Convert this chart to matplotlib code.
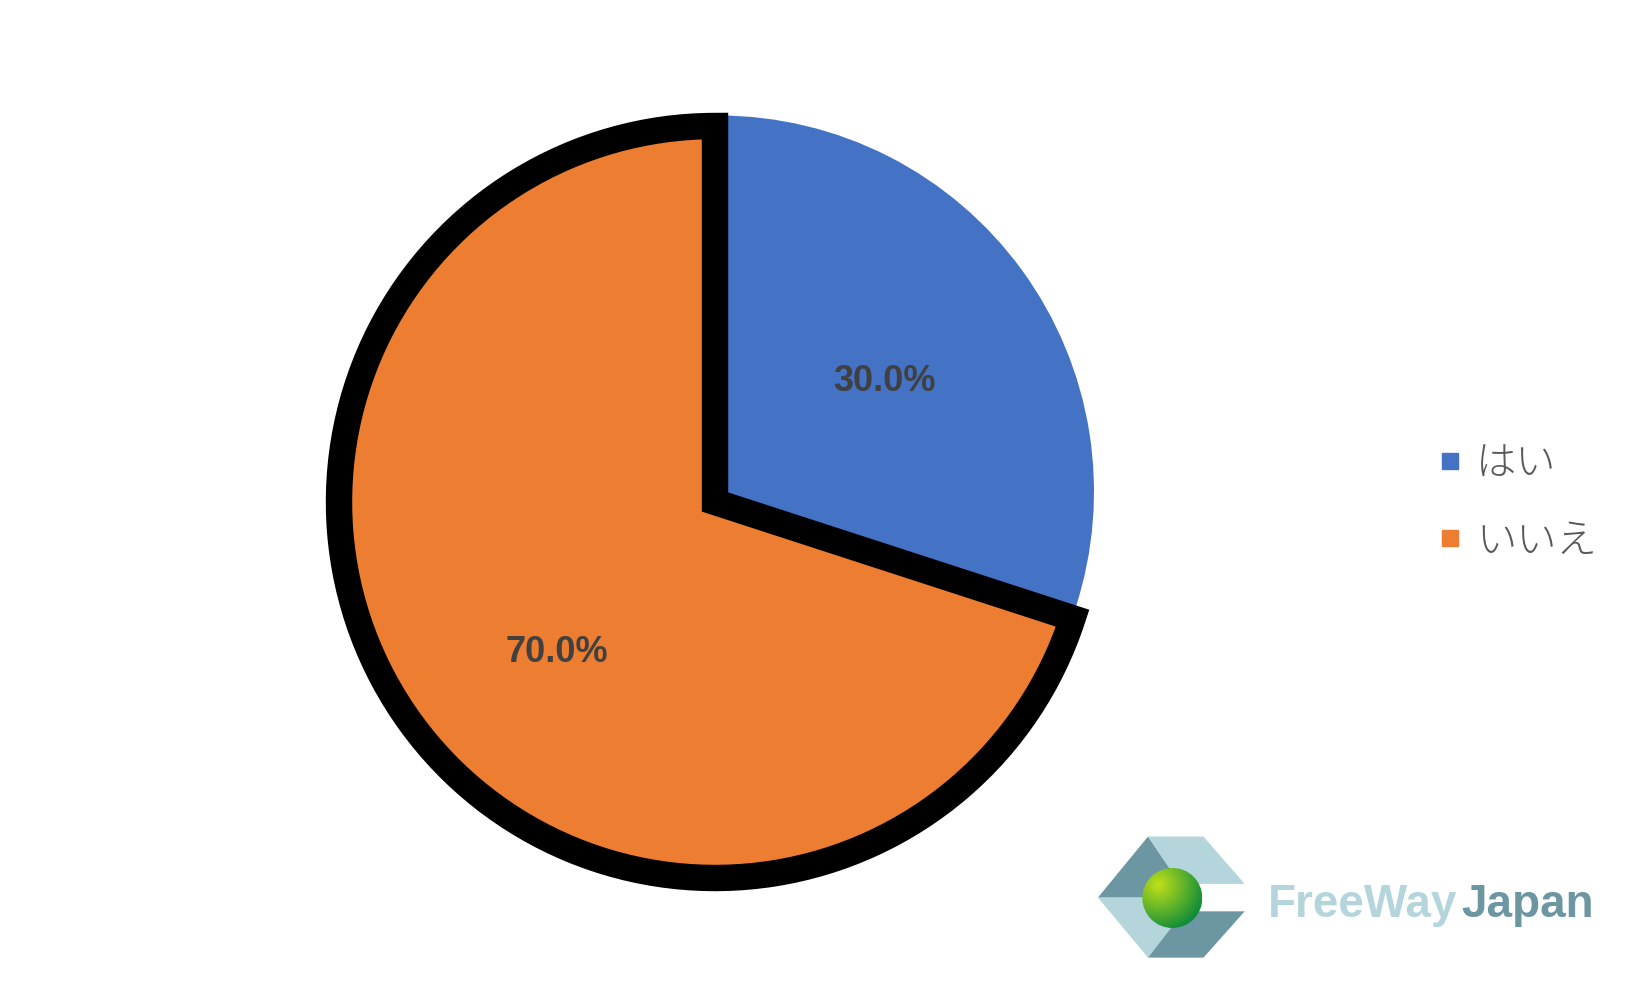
import numpy as np
import matplotlib
matplotlib.use("Agg")
import matplotlib.pyplot as plt
from matplotlib.lines import Line2D
from matplotlib.patches import Polygon, Circle

labels = ["はい", "いいえ"]
values = [30.0, 70.0]
colors = ["#4472C4", "#ED7D31"]

W, H = 1641, 1002
fig = plt.figure(figsize=(W / 100, H / 100), dpi=100)

# pie axes: 1 data unit = 376 px, pie centre at (715, 502) px
R = 376.0
cx, cy = 715.0, 502.0
ax = fig.add_axes([0, 0, 1, 1])
wedges, texts, autotexts = ax.pie(
    values, colors=colors, startangle=90, counterclock=False,
    autopct="%1.1f%%", pctdistance=0.54,
    textprops=dict(color="#404040", fontsize=26, fontweight="bold",
                   family="Liberation Sans"),
)
ax.set_xlim(-cx / R, (W - cx) / R)
ax.set_ylim(-(H - cy) / R, cy / R)
ax.set_aspect("auto")
ax.axis("off")

# blue slice sits slightly higher; orange slice has thick black outline
wedges[0].set_center((0.008, 0.028))
wedges[0].set_zorder(1)
wedges[1].set_edgecolor("black")
wedges[1].set_linewidth(19)
wedges[1].set_joinstyle("miter")
wedges[1].set_zorder(2)
autotexts[0].set_position((0.45, 0.32))
autotexts[1].set_position((-0.42, -0.40))
for t in autotexts:
    t.set_zorder(5)

handles = [Line2D([], [], marker="s", linestyle="", color=c, markersize=11)
           for c in colors]
leg = fig.legend(handles, labels, loc="center left",
                 bbox_to_anchor=(1436 / W, 1 - 503 / H), frameon=False,
                 handlelength=0.7, handletextpad=0.3, borderpad=0,
                 borderaxespad=0, labelspacing=0.87,
                 prop=dict(family=["Noto Sans CJK JP", "DejaVu Sans"],
                           size=29, weight="light"))
for t in leg.get_texts():
    t.set_color("#595959")

# watermark logo
lx = fig.add_axes([0, 0, 1, 1])
lx.set_xlim(0, W)
lx.set_ylim(H, 0)
lx.axis("off")
ox, oy, sx, sy = 1080, 817, 0.358, 0.343


def P(x, y):
    return (ox + x * sx, oy + y * sy)


dark, light = "#6C96A1", "#B5D5DC"
lx.add_patch(Polygon([P(50, 235), P(190, 57), P(280, 195), P(250, 235)], color=dark, lw=0))
lx.add_patch(Polygon([P(190, 57), P(345, 57), P(460, 195), P(280, 195)], color=light, lw=0))
lx.add_patch(Polygon([P(50, 235), P(250, 235), P(290, 275), P(190, 410)], color=light, lw=0))
lx.add_patch(Polygon([P(290, 275), P(460, 275), P(345, 410), P(190, 410)], color=dark, lw=0))
scx, scy = P(258, 236)
sr = 30
yy, xx = np.mgrid[-1:1:200j, -1:1:200j]
d = np.clip(np.hypot(xx + 0.45, yy + 0.45) / 1.6, 0, 1)
c0 = np.array([0.76, 0.88, 0.10])
c1 = np.array([0.05, 0.55, 0.22])
img = c0[None, None, :] * (1 - d[..., None]) + c1[None, None, :] * d[..., None]
im = lx.imshow(img, extent=(scx - sr, scx + sr, scy + sr, scy - sr), zorder=3)
clip = Circle((scx, scy), sr, transform=lx.transData)
im.set_clip_path(clip)
lx.set_xlim(0, W)
lx.set_ylim(H, 0)
lx.set_aspect("auto")
base = 917
lx.text(ox + 525 * sx, base, "FreeWay", color="#B5D5DC", fontsize=33, fontweight="bold",
        family="Liberation Sans", va="baseline", ha="left")
lx.text(ox + 1065 * sx, base, "Japan", color="#6C96A1", fontsize=33, fontweight="bold",
        family="Liberation Sans", va="baseline", ha="left")

fig.savefig("out.png", dpi=100)
